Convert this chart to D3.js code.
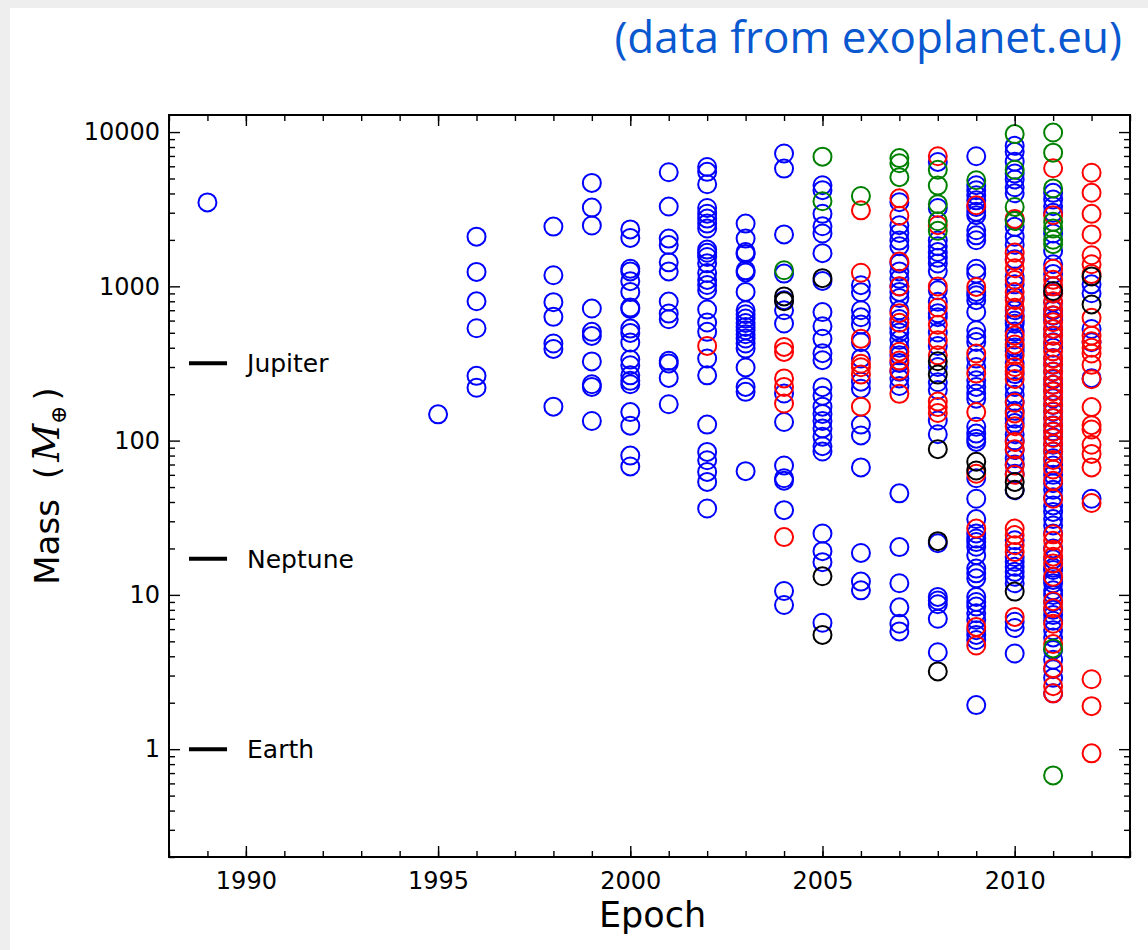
<!DOCTYPE html>
<html>
<head>
<meta charset="utf-8">
<script src="https://cdn.jsdelivr.net/npm/d3@7"></script>
<style>
  body { margin: 0; background: #eeeeee; }
  svg { display: block; }
</style>
</head>
<body>
<div id="chart"></div>
<script>
// masses (Earth masses) per discovery year, one array per detection colour
const blueData = [
    [1989, [3500]],
    [1995, [148]],
    [1996, [2100, 1240, 800, 535, 263, 220]],
    [1998, [2440, 1180, 790, 634, 426, 393, 166]],
    [1999, [4680, 3240, 2480, 718, 507, 477, 326, 232, 223, 134]],
    [2000, [2340, 2060, 1300, 1250, 1080, 920, 728, 714, 532, 499, 432, 335, 308, 265, 244, 232, 153, 125, 80, 68]],
    [2001, [5490, 3290, 2040, 1850, 1430, 1250, 797, 666, 612, 329, 316, 255, 172]],
    [2002, [5940, 5520, 4590, 3220, 2960, 2750, 2550, 2370, 1730, 1650, 1550, 1410, 1220, 1100, 1020, 944, 707, 583, 507, 340, 265, 127, 84.5, 74.6, 62.7, 54, 36.3]],
    [2003, [2550, 2040, 1670, 1620, 1270, 1230, 920, 700, 659, 618, 579, 546, 519, 489, 459, 426, 395, 298, 223, 207, 63.4]],
    [2004, [7260, 5800, 2170, 1210, 813, 700, 574, 202, 132, 69, 57, 55, 35.4, 10.6, 8.6]],
    [2005, [4520, 4200, 2950, 2450, 2200, 1640, 1084, 681, 551, 457, 369, 332, 222, 195, 166, 149, 134, 120, 106, 92, 85, 25, 19.2, 16.3, 6.6]],
    [2006, [1017, 915, 700, 630, 565, 434, 341, 241, 217, 127, 108, 67, 18.7, 12.2, 10.7]],
    [2007, [3510, 2490, 2220, 1980, 1820, 1406, 1250, 1119, 998, 920, 841, 700, 614, 532, 503, 450, 400, 357, 318, 280, 253, 226, 45.5, 20.4, 11.9, 8.3, 6.5, 5.8]],
    [2008, [6400, 3220, 1980, 1820, 1670, 1530, 1406, 1255, 942, 794, 668, 631, 502, 411, 300, 239, 213, 135, 110, 21.6, 9.7, 9.2, 8.7, 7.0, 4.25]],
    [2009, [6970, 4520, 4200, 3890, 3610, 3270, 3040, 2890, 2310, 2140, 1990, 1300, 1210, 920, 875, 813, 682, 519, 470, 436, 340, 300, 246, 223, 202, 187, 123, 111, 103, 98, 57, 42, 31, 25, 23.2, 22, 20.5, 18.1, 14.8, 13.8, 12.8, 9.7, 9.0, 8.4, 7.6, 6.9, 5.9, 5.5, 5.1, 1.93]],
    [2010, [8140, 7450, 6430, 5390, 4930, 4385, 4010, 2700, 2430, 2100, 1860, 1500, 1160, 1030, 850, 700, 645, 600, 573, 509, 453, 402, 380, 318, 270, 223, 198, 180, 156, 139, 130, 110, 100, 87, 77, 70, 61, 47.7, 22.6, 17.6, 16.4, 15.2, 14.1, 13.1, 11.9, 6.7, 6.1, 4.17]],
    [2011, [4036, 3652, 3304, 3000, 2200, 1700, 1390, 1200, 1000, 900, 789, 700, 646, 600, 529, 480, 434, 400, 343, 310, 281, 250, 230, 210, 188, 170, 154, 140, 126, 115, 105, 94, 85, 77, 69, 60, 53, 48, 43, 38, 34.5, 31, 28.2, 25, 20, 17, 15, 14.5, 13, 12.5, 11.9, 10.7, 10.0, 9, 8, 7.4, 6.8, 5.9, 5.3, 4.4, 3.8, 3.3, 2.9, 2.3]],
    [2012, [1030, 902, 529, 434, 254, 42]]
];

const redData = [
    [2002, [411]],
    [2004, [405, 376, 253, 223, 174, 23.7]],
    [2006, [3110, 1225, 457, 315, 299, 268, 166]],
    [2007, [3720, 2870, 1448, 1000, 670, 580, 377, 330, 284, 201]],
    [2008, [6970, 2490, 998, 729, 563, 448, 357, 179, 165, 151]],
    [2009, [3355, 991, 367, 272, 153, 61, 26.9, 6.2, 4.7]],
    [2010, [2735, 1656, 1472, 1309, 1100, 918, 816, 726, 640, 480, 420, 357, 300, 282, 251, 176, 150, 124, 98, 88, 69, 60, 26.9, 24.4, 21.0, 19.0, 7.2]],
    [2011, [5826, 2893, 1300, 1102, 1000, 900, 800, 714, 650, 585, 530, 479, 430, 379, 340, 311, 280, 254, 230, 208, 190, 171, 155, 140, 125, 114, 104, 95, 85, 75, 65, 55, 42, 24.7, 22.4, 19.6, 17.7, 16.0, 13.1, 9.1, 8.2, 6.5, 4.8, 3.35, 2.56, 2.3]],
    [2012, [5450, 4040, 2950, 2170, 1590, 1390, 1200, 625, 479, 440, 400, 367, 310, 250, 165, 126, 118, 94, 82, 67, 39.4, 2.84, 1.9, 0.94]]
];

const blackData = [
    [2004, [860, 800]],
    [2005, [1130, 13.2, 5.5]],
    [2008, [327, 268, 88, 22.3, 3.19]],
    [2009, [73, 64]],
    [2010, [54, 48, 10.5]],
    [2011, [933]],
    [2012, [1160, 763]]
];

const greenData = [
    [2004, [1271]],
    [2005, [6930, 3560]],
    [2006, [3850]],
    [2007, [6780, 6280, 5100]],
    [2008, [5700, 4500, 3410, 2640, 2290]],
    [2009, [4870]],
    [2010, [9700, 5700, 3270, 2650]],
    [2011, [9930, 7350, 4315, 2619, 2370, 2005, 1877, 4.5, 0.676]]
];

const series = [
    { data: blueData, color: "#0000ff" },
    { data: redData, color: "#ff0000" },
    { data: blackData, color: "#000000" },
    { data: greenData, color: "#008000" }
];

const planetNames = ["Jupiter", "Neptune", "Earth"];
const planetMasses = [317.8, 17.15, 1];

const xTickYears = [1990, 1995, 2000, 2005, 2010];
const yTickValues = [1, 10, 100, 1000, 10000];
const yTickLabels = ["1", "10", "100", "1000", "10000"];

const width = 1148, height = 950;
const margin = { left: 169, right: 18, top: 115, bottom: 93 };

const svg = d3.select("#chart").append("svg")
    .attr("width", width)
    .attr("height", height);

// light frame + white page
svg.append("rect").attr("width", width).attr("height", height).attr("fill", "#eeeeee");
svg.append("rect").attr("x", 10).attr("y", 8).attr("width", width - 10).attr("height", height - 8).attr("fill", "#ffffff");

const x = d3.scaleLinear().domain([1988, 2013]).range([margin.left, width - margin.right]);
const y = d3.scaleLog().domain([0.2, 12900]).range([height - margin.bottom, margin.top]);

const plotL = x.range()[0], plotR = x.range()[1];
const plotT = y.range()[1], plotB = y.range()[0];

// title
svg.append("text")
    .attr("x", 1122).attr("y", 53)
    .attr("text-anchor", "end")
    .attr("font-family", "'Open Sans', sans-serif")
    .attr("font-size", 44)
    .attr("fill", "#0a58d0")
    .text("(data from exoplanet.eu)");

// points
const gPts = svg.append("g");
series.forEach(s => {
    const pts = [];
    s.data.forEach(([yr, masses]) => masses.forEach(m => pts.push([yr, m])));
    gPts.append("g").selectAll("circle")
        .data(pts)
        .enter().append("circle")
        .attr("cx", d => x(d[0]))
        .attr("cy", d => y(d[1]))
        .attr("r", 9)
        .attr("fill", "none")
        .attr("stroke", s.color)
        .attr("stroke-width", 2);
});

// reference planets
const gRef = svg.append("g");
planetMasses.forEach((m, i) => {
    gRef.append("line")
        .attr("x1", x(1988.52)).attr("x2", x(1989.51))
        .attr("y1", y(m)).attr("y2", y(m))
        .attr("stroke", "#000").attr("stroke-width", 4);
    gRef.append("text")
        .attr("x", x(1990.03)).attr("y", y(m))
        .attr("dy", "0.36em")
        .attr("font-family", "'DejaVu Sans', sans-serif")
        .attr("font-size", 25)
        .text(planetNames[i]);
});

// axes: ticks point inward on all four sides
const minorYears = d3.range(1988, 2014);
const minorY = [];
for (let k = -1; k <= 4; k++) {
    for (let j = 2; j <= 9; j++) {
        const v = j * Math.pow(10, k);
        if (v >= 0.2 && v <= 12900) minorY.push(v);
    }
}

function styleAxis(g) {
    g.select(".domain").remove();
    g.selectAll("line").attr("stroke", "#000").attr("stroke-width", 1.4);
    g.selectAll("text")
        .attr("font-family", "'DejaVu Sans', sans-serif")
        .attr("font-size", 24)
        .attr("fill", "#000");
}

svg.append("g").attr("transform", `translate(0,${plotB})`)
    .call(d3.axisBottom(x).tickValues(minorYears).tickSize(-6).tickFormat(""))
    .call(styleAxis);
svg.append("g").attr("transform", `translate(0,${plotB})`)
    .call(d3.axisBottom(x).tickValues(xTickYears).tickSize(-11).tickPadding(15).tickFormat(d3.format("d")))
    .call(styleAxis);
svg.append("g").attr("transform", `translate(0,${plotT})`)
    .call(d3.axisTop(x).tickValues(minorYears).tickSize(-6).tickFormat(""))
    .call(styleAxis);
svg.append("g").attr("transform", `translate(0,${plotT})`)
    .call(d3.axisTop(x).tickValues(xTickYears).tickSize(-11).tickFormat(""))
    .call(styleAxis);

svg.append("g").attr("transform", `translate(${plotL},0)`)
    .call(d3.axisLeft(y).tickValues(minorY).tickSize(-6).tickFormat(""))
    .call(styleAxis);
svg.append("g").attr("transform", `translate(${plotL},0)`)
    .call(d3.axisLeft(y).tickValues(yTickValues).tickSize(-11).tickPadding(9)
        .tickFormat((d, i) => yTickLabels[i]))
    .call(styleAxis);
svg.append("g").attr("transform", `translate(${plotR},0)`)
    .call(d3.axisRight(y).tickValues(minorY).tickSize(-6).tickFormat(""))
    .call(styleAxis);
svg.append("g").attr("transform", `translate(${plotR},0)`)
    .call(d3.axisRight(y).tickValues(yTickValues).tickSize(-11).tickFormat(""))
    .call(styleAxis);

// frame
svg.append("rect")
    .attr("x", plotL).attr("y", plotT)
    .attr("width", plotR - plotL).attr("height", plotB - plotT)
    .attr("fill", "none").attr("stroke", "#000").attr("stroke-width", 2);

// axis labels
svg.append("text")
    .attr("x", (plotL + plotR) / 2 + 3).attr("y", 927)
    .attr("text-anchor", "middle")
    .attr("font-family", "'DejaVu Sans', sans-serif")
    .attr("font-size", 35)
    .text("Epoch");

const yLab = svg.append("text")
    .attr("transform", `translate(59,${(plotT + plotB) / 2}) rotate(-90)`)
    .attr("text-anchor", "middle")
    .attr("font-family", "'DejaVu Sans', sans-serif")
    .attr("font-size", 34);
yLab.append("tspan").text("Mass");
yLab.append("tspan").attr("dx", 20).text("(");
yLab.append("tspan")
    .attr("font-family", "'DejaVu Serif', serif")
    .attr("font-style", "italic")
    .attr("font-size", 37)
    .attr("dx", 4)
    .text("M");
yLab.append("tspan")
    .attr("font-family", "'DejaVu Serif', serif")
    .attr("font-size", 22)
    .attr("dy", 7)
    .text("\u2295");
yLab.append("tspan")
    .attr("dy", -7)
    .attr("dx", 5)
    .text(")");
</script>
</body>
</html>
